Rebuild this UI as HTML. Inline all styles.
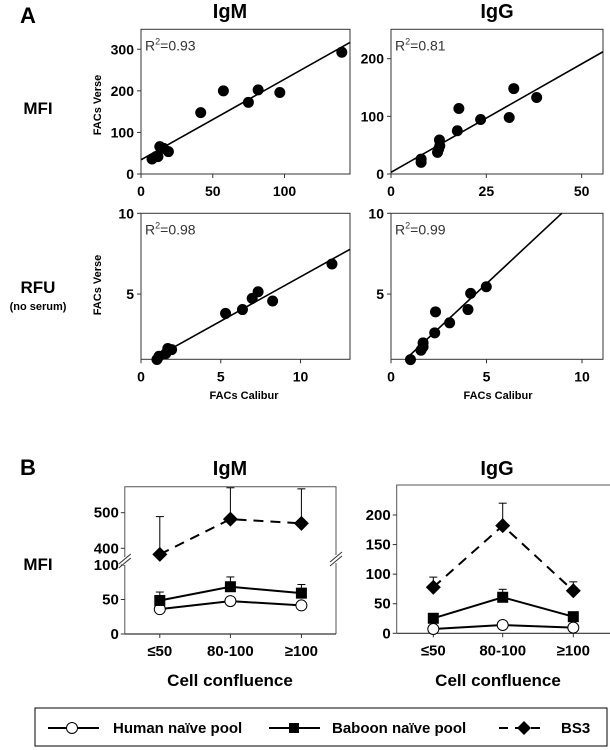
<!DOCTYPE html>
<html><head><meta charset="utf-8">
<style>
html,body{margin:0;padding:0;background:#fff;}
svg{display:block;font-family:"Liberation Sans",Arial,sans-serif;}
.b{font-weight:bold;}
</style></head>
<body>
<svg id="fig" width="610" height="750" viewBox="0 0 610 750" xmlns="http://www.w3.org/2000/svg">
<text x="20" y="23" class="b" font-size="22">A</text>
<text x="230" y="18" class="b" font-size="20" text-anchor="middle">IgM</text>
<text x="497" y="18" class="b" font-size="20" text-anchor="middle">IgG</text>
<text x="38" y="114" class="b" font-size="17" text-anchor="middle">MFI</text>
<text x="38" y="293" class="b" font-size="17" text-anchor="middle">RFU</text>
<text x="38" y="310" class="b" font-size="11" text-anchor="middle">(no serum)</text>
<text transform="translate(101,105) rotate(-90)" class="b" font-size="11" text-anchor="middle">FACs Verse</text>
<text transform="translate(101,285) rotate(-90)" class="b" font-size="11" text-anchor="middle">FACs Verse</text>
<text x="244" y="399" class="b" font-size="11" text-anchor="middle">FACs Calibur</text>
<text x="498" y="399" class="b" font-size="11" text-anchor="middle">FACs Calibur</text>

<text x="20" y="475" class="b" font-size="22">B</text>
<text x="230" y="475" class="b" font-size="20" text-anchor="middle">IgM</text>
<text x="497" y="475" class="b" font-size="20" text-anchor="middle">IgG</text>
<text x="38" y="570" class="b" font-size="17" text-anchor="middle">MFI</text>
<text x="230" y="686" class="b" font-size="17" text-anchor="middle">Cell confluence</text>
<text x="498" y="686" class="b" font-size="17" text-anchor="middle">Cell confluence</text>

<g id="legend">
<rect x="35" y="708" width="572" height="38" fill="none" stroke="#000" stroke-width="1"/>
<g>
<line x1="48" y1="728" x2="99" y2="728" stroke="#000" stroke-width="2"/>
<circle cx="72" cy="728" r="5.5" fill="#fff" stroke="#000" stroke-width="1"/>
<text x="113" y="733" class="b" font-size="15">Human naïve pool</text></g>
<g>
<line x1="269" y1="728" x2="320" y2="728" stroke="#000" stroke-width="2"/>
<rect x="289" y="723" width="10" height="10" fill="#000"/>
<text x="332" y="733" class="b" font-size="15">Baboon naïve pool</text></g>
<g>
<line x1="499" y1="728" x2="546" y2="728" stroke="#000" stroke-width="2" stroke-dasharray="9,7"/>
<path d="M524 721 L531 728 L524 735 L517 728 Z" fill="#000"/>
<text x="561" y="733" class="b" font-size="15">BS3</text></g>
</g>
</svg>
<script>
// ---- Panel A data ----
const igmMfiX = [7.7,10.4,11.8,13.1,15.8,19.1,41.6,57.4,74.8,81.6,96.7,139.9];
const igmMfiY = [36,41.7,41.7,65.8,61.7,53.7,147.6,199.8,172.4,202.3,195.9,292.8];
const iggMfiX = [7.9,7.9,12.2,12.5,12.8,12.7,17.4,17.8,23.5,31,32.2,38.2];
const iggMfiY = [25.9,20.2,37.5,43.2,49,58.9,75,113.6,94.5,98,148.2,132.7];
const igmRfuX = [1.0,1.13,1.55,1.68,1.92,5.3,6.36,6.97,7.34,8.25,11.97];
const igmRfuY = [0.95,1.15,1.31,1.63,1.56,3.8,4.04,4.73,5.14,4.57,6.86];
const iggRfuX = [1.02,1.57,1.68,1.68,2.29,2.33,3.07,4.03,4.17,4.99];
const iggRfuY = [0.94,1.52,1.73,1.98,2.6,3.9,3.22,4.04,5.04,5.45];
const fitSlopes = [1.94,3.76,0.549,1.105];
const fitIntercepts = [34,3,0.58,0.12];
const r2Labels = ["0.93","0.81","0.98","0.99"];
const mfiIgmTicks = [0,100,200,300];
const mfiIgmXTicks = [0,50,100];
const mfiIggTicks = [0,100,200];
const mfiIggXTicks = [0,25,50];
const rfuYTicks = [5,10];
const rfuXTicks = [0,5,10];
// ---- Panel B data ----
const categories = ["≤50","80-100","≥100"];
const bIgmHuman = [36,47.7,41.4];
const bIgmBaboon = [48.6,68.5,59.2];
const bIgmBaboonErr = [60.8,82.7,71.7];
const bIgmBs3 = [383,482,470];
const bIgmBs3Err = [489,570,567];
const bIggHuman = [7.3,14,9.6];
const bIggBaboon = [25.4,60.9,28.1];
const bIggBaboonErr = [null,74.4,null];
const bIggBs3 = [77.8,182,72];
const bIggBs3Err = [95,220,87];
const bIgmLowTicks = [0,50,100];
const bIgmHighTicks = [400,500];
const bIggTicks = [0,50,100,150,200];

const NS="http://www.w3.org/2000/svg";
const svg=document.getElementById('fig');
function mk(tag,attrs,parent){const e=document.createElementNS(NS,tag);for(const k in attrs)e.setAttribute(k,attrs[k]);(parent||svg).appendChild(e);return e;}
function lin(d0,d1,r0,r1){return v=>r0+(v-d0)*(r1-r0)/(d1-d0);}

function scatterPanel(name,box,xd,yd,xs,ys,xt,yt,slope,icpt,r2,yLabelRight){
  const g=mk('g',{});
  
  
  const sx=lin(xd[0],xd[1],box.l,box.r), sy=lin(yd[0],yd[1],box.b,box.t);
  const frame=mk('rect',{x:box.l,y:box.t,width:box.r-box.l,height:box.b-box.t,fill:'none',stroke:'#333','stroke-width':1},g);
  
  
  xt.forEach(v=>{const x=sx(v);mk('line',{x1:x,y1:box.b,x2:x,y2:box.b+4,stroke:'#333'},g);
    const t=mk('text',{x:x,y:box.b+22,'text-anchor':'middle','font-size':14,'font-weight':'bold'},g);t.textContent=v;
    
    });
  yt.forEach(v=>{const y=sy(v);mk('line',{x1:box.l-4,y1:y,x2:box.l,y2:y,stroke:'#333'},g);
    const t=mk('text',{x:yLabelRight,y:y+5,'text-anchor':'end','font-size':14,'font-weight':'bold'},g);t.textContent=v;
    
    });
  let x0=xd[0],x1=xd[1];
  let ya=icpt+slope*x0; if(ya<yd[0]){x0=(yd[0]-icpt)/slope;}
  let yb=icpt+slope*x1; if(yb>yd[1]){x1=(yd[1]-icpt)/slope;}
  const fl=mk('line',{x1:sx(x0),y1:sy(icpt+slope*x0),x2:sx(x1),y2:sy(icpt+slope*x1),stroke:'#000','stroke-width':1.6},g);
  
  
  xs.forEach((v,i)=>{const c=mk('circle',{cx:sx(v),cy:sy(ys[i]),r:5.5,fill:'#000'},g);
    
    });
  const t=mk('text',{x:box.l+4,y:box.t+21,'font-size':14,fill:'#333'},g);
  
  
  t.innerHTML='R<tspan dy="-6" font-size="9">2</tspan><tspan dy="6">='+r2+'</tspan>';
}
scatterPanel('scatter-igm-mfi',{l:141,r:350,t:29.3,b:174},[0,145.6],[0,348],igmMfiX,igmMfiY,mfiIgmXTicks,mfiIgmTicks,fitSlopes[0],fitIntercepts[0],r2Labels[0],134);
scatterPanel('scatter-igg-mfi',{l:391,r:603,t:29.3,b:174},[0,55.6],[0,251],iggMfiX,iggMfiY,mfiIggXTicks,mfiIggTicks,fitSlopes[1],fitIntercepts[1],r2Labels[1],384);
scatterPanel('scatter-igm-rfu',{l:141,r:350,t:213.3,b:359.3},[0,13.1],[0.96,10],igmRfuX,igmRfuY,rfuXTicks,rfuYTicks,fitSlopes[2],fitIntercepts[2],r2Labels[2],134);
scatterPanel('scatter-igg-rfu',{l:391,r:603,t:213.3,b:359.3},[0,11.1],[0.96,10],iggRfuX,iggRfuY,rfuXTicks,rfuYTicks,fitSlopes[3],fitIntercepts[3],r2Labels[3],384);

function linePanel(name,box,cx,sy,ticks,series,frameRight){
  const g=mk('g',{});
  
  
  const fr=mk('path',{d:`M${box.l} ${box.b} L${box.l} ${box.t} L${box.r} ${box.t} `+(frameRight?`L${box.r} ${box.b}`:''),fill:'none',stroke:'#555','stroke-width':1},g);
  
  
  mk('line',{x1:box.l,y1:box.b,x2:box.r,y2:box.b,stroke:'#333','stroke-width':1.2},g);
  ticks.forEach(v=>{const y=sy(v);mk('line',{x1:box.l-4,y1:y,x2:box.l,y2:y,stroke:'#333'},g);
    const t=mk('text',{x:box.l-6,y:y+5,'text-anchor':'end','font-size':15,'font-weight':'bold'},g);t.textContent=v;
    
    });
  categories.forEach((c,i)=>{const x=cx[i];mk('line',{x1:x,y1:box.b,x2:x,y2:box.b+4,stroke:'#333'},g);
    const t=mk('text',{x:x,y:box.b+22,'text-anchor':'middle','font-size':15,'font-weight':'bold'},g);t.textContent=c;
    
    });
  series.forEach(s=>{
    if(s.err) s.err.forEach((e,i)=>{ if(e==null) return; const y0=sy(s.vals[i]),y1=Math.max(sy(e),box.t+1);
      mk('line',{x1:cx[i],y1:y0,x2:cx[i],y2:y1,stroke:'#000','stroke-width':1},g);
      mk('line',{x1:cx[i]-4,y1:y1,x2:cx[i]+4,y2:y1,stroke:'#000','stroke-width':1},g);});
    const pts=s.vals.map((v,i)=>cx[i]+','+sy(v)).join(' ');
    const pl=mk('polyline',{points:pts,fill:'none',stroke:'#000','stroke-width':2,'stroke-dasharray':s.dash||'none'},g);
    
    
    s.vals.forEach((v,i)=>{const x=cx[i],y=sy(v);let m;
      if(s.marker==='circle') m=mk('circle',{cx:x,cy:y,r:5.5,fill:'#fff',stroke:'#000'},g);
      else if(s.marker==='square') m=mk('rect',{x:x-5.5,y:y-5.5,width:11,height:11,fill:'#000'},g);
      else m=mk('path',{d:`M${x} ${y-7.5} L${x+7.5} ${y} L${x} ${y+7.5} L${x-7.5} ${y} Z`,fill:'#000'},g);
      
      });
  });
  return g;
}
const igmLow=lin(0,100,634,565), igmHigh=lin(400,500,548.3,512.7);
const igmScale=v=>v<=100?igmLow(v):igmHigh(v);
const igmCx=[159.8,230.4,301.4];
const gm=linePanel('line-chart-igm',{l:124.8,r:336,t:486.7,b:634},igmCx,igmScale,bIgmLowTicks.concat(bIgmHighTicks),[
 {name:'human',vals:bIgmHuman,marker:'circle'},
 {name:'baboon',vals:bIgmBaboon,err:bIgmBaboonErr,marker:'square'},
 {name:'bs3',vals:bIgmBs3,err:bIgmBs3Err,marker:'diamond',dash:'10,7'}],true);
[[124.8,559],[336,557]].forEach(p=>{mk('rect',{x:p[0]-2,y:p[1]-2,width:4,height:8,fill:'#fff'},gm);
 for(let k=0;k<2;k++){const l=mk('line',{x1:p[0]-6,y1:p[1]+5+k*4,x2:p[0]+6,y2:p[1]-5+k*4,stroke:'#333','stroke-width':1},gm);
 
 }});
const iggScale=lin(0,200,633.3,515);
linePanel('line-chart-igg',{l:396.7,r:610,t:485,b:633.3},[433.3,502.7,573.3],iggScale,bIggTicks,[
 {name:'human',vals:bIggHuman,marker:'circle'},
 {name:'baboon',vals:bIggBaboon,err:bIggBaboonErr,marker:'square'},
 {name:'bs3',vals:bIggBs3,err:bIggBs3Err,marker:'diamond',dash:'10,7'}],false);
</script>
</body></html>
